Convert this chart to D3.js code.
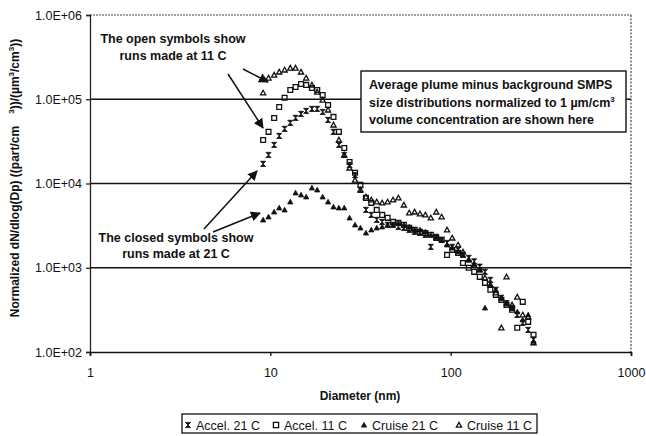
<!DOCTYPE html>
<html><head><meta charset="utf-8">
<script src="https://cdn.jsdelivr.net/npm/d3@7"></script>
<style>
body{margin:0;background:#fff;}
svg text{font-family:"Liberation Sans",Arial,sans-serif;fill:#111;}
</style></head>
<body><svg id="c" width="646" height="436"></svg>
<script>
// Diameter channels (nm)
const diameters = [9.12, 9.77, 10.5, 11.2, 12.0, 12.9, 13.8, 14.8, 15.8, 17.0, 18.2, 19.5, 20.9, 22.4, 24.0, 25.7, 27.5, 29.5, 31.6, 33.9, 36.3, 38.9, 41.7, 44.7, 47.9, 51.3, 55.0, 58.9, 63.1, 67.6, 72.4, 77.6, 83.2, 89.1, 95.5, 102, 110, 117, 126, 135, 145, 155, 166, 178, 191, 204, 219, 234, 251, 269, 288];
const accel21 = [17100, 21800, 28700, 36700, 44500, 52400, 60000, 66900, 72700, 76800, 76800, 70600, 56800, 41000, 28700, 21800, 16600, 12600, 8400, 4860, 4240, 3700, 3500, 3230, 3230, 3060, 2970, 2820, 2670, 2590, 2460, 1770, 2330, 2140, 1970, 1770, 1630, 1420, 1310, 1190, 1030, 894, 718, 547, 440, 380, 334, 276, 222, 183, 140];
const accel11 = [32900, 41000, 60000, 81000, 104000, 129000, 140000, 152000, 148000, 136000, 129000, 112000, 85500, 61700, 41000, 26400, 18000, 13400, 9620, 6750, 5890, 4860, 4240, 3910, 3500, 3410, 3230, 2970, 2820, 2670, 2590, 2460, 2260, 2140, 1420, 1630, 1500, 1140, 1000, 894, 780, 662, 547, 477, 416, 363, 317, 194, 394, 228, 160];
const cruise21 = [3700, 4020, 4600, 5140, 4860, 6050, 7740, 7330, 6940, 8870, 8400, 6940, 6050, 5280, 5140, 5140, 3910, 3230, 2970, 2590, 2820, 2970, 3060, 3230, 3230, 3410, 3230, 3060, 2820, 2820, 2670, 2460, 2330, 2140, 1870, 1720, 1540, 1420, 1240, 1110, 944, 334, 627, 547, 440, 380, 334, 300, 241, 276, 134];
const cruise11 = [119000, 179000, 194000, 211000, 223000, 235000, 235000, 211000, 179000, 148000, 122000, 98100, 74700, 49600, 32900, 21800, 15300, 11000, 8400, 6940, 6390, 6050, 5890, 6050, 6390, 6750, 5570, 4480, 4600, 4360, 4240, 3910, 4600, 4020, 2820, 2260, 1870, 1540, 1240, 1080, 944, 760, 627, 504, 194, 780, 363, 450, 276, 262, 129];
const seriesNames = ["Accel. 21 C", "Accel. 11 C", "Cruise 21 C", "Cruise 11 C"];
const seriesValues = [accel21, accel11, cruise21, cruise11];
const seriesSymbols = ["hourglass", "square", "triFilled", "triOpen"];
const yTicks = [1e2, 1e3, 1e4, 1e5, 1e6];
const yTickLabels = ["1.0E+02", "1.0E+03", "1.0E+04", "1.0E+05", "1.0E+06"];
const xTicks = [1, 10, 100, 1000];
const xTickLabels = ["1", "10", "100", "1000"];

const svg = d3.select("#c");
const L = 90, R = 631, T = 15, B = 352;
const x = d3.scaleLog().domain([1, 1000]).range([L, R]);
const y = d3.scaleLog().domain([100, 1e6]).range([B, T]);

// gridlines
svg.append("g").selectAll("line").data([1e3, 1e4, 1e5]).join("line")
  .attr("x1", L).attr("x2", R).attr("y1", d => y(d)).attr("y2", d => y(d))
  .attr("stroke", "#111").attr("stroke-width", 1.3);
// top and right dotted border
svg.append("line").attr("x1", L).attr("x2", R).attr("y1", y(1e6)).attr("y2", y(1e6))
  .attr("stroke", "#444").attr("stroke-width", 1.2).attr("stroke-dasharray", "2,1");
svg.append("line").attr("x1", R).attr("x2", R).attr("y1", T).attr("y2", B)
  .attr("stroke", "#444").attr("stroke-width", 1.2).attr("stroke-dasharray", "2,1.5");

// axes
const yAxis = d3.axisLeft(y).tickValues(yTicks).tickFormat((d, i) => yTickLabels[yTicks.indexOf(d)]).tickSize(4).tickPadding(4);
const gy = svg.append("g").attr("transform", `translate(${L},0)`).call(yAxis);
gy.select(".domain").attr("stroke", "#222").attr("stroke-width", 1.3);
gy.selectAll(".tick line").attr("stroke", "#222").attr("stroke-width", 1.3);
gy.selectAll(".tick text").attr("font-size", 12.5).attr("fill", "#111").style("font-family", '"Liberation Sans",Arial,sans-serif');

const xAxis = d3.axisBottom(x).tickValues(xTicks).tickFormat(d => xTickLabels[xTicks.indexOf(d)]).tickSize(4).tickPadding(12);
const gx = svg.append("g").attr("transform", `translate(0,${B})`).call(xAxis);
gx.select(".domain").attr("stroke", "#111").attr("stroke-width", 1.6);
gx.selectAll(".tick line").attr("stroke", "#111").attr("stroke-width", 1.3);
gx.selectAll(".tick text").attr("font-size", 12.5).attr("fill", "#111").style("font-family", '"Liberation Sans",Arial,sans-serif');

// symbols
function symbolPath(kind, s) {
  if (kind === "hourglass") return `M${-s},${-s}L${s},${-s}L${-s},${s}L${s},${s}Z`;
  if (kind === "square") return `M${-s},${-s}H${s}V${s}H${-s}Z`;
  return `M0,${-s}L${s},${s * 0.8}L${-s},${s * 0.8}Z`;
}
function styleSym(sel, kind) {
  if (kind === "hourglass" || kind === "triFilled") sel.attr("fill", "#111").attr("stroke", "#111").attr("stroke-width", 0.8);
  else sel.attr("fill", "none").attr("stroke", "#111").attr("stroke-width", 1.3);
}

const plot = svg.append("g");
seriesValues.forEach((vals, si) => {
  const kind = seriesSymbols[si];
  const pts = diameters.map((d, i) => ({d, v: vals[i]})).filter(p => p.v != null);
  const g = plot.append("g");
  const sz = kind === "square" ? 2.4 : 2.6;
  g.selectAll("path").data(pts).join("path")
    .attr("transform", p => `translate(${x(p.d)},${y(p.v)})`)
    .attr("d", symbolPath(kind, sz))
    .call(styleSym, kind);
});

// annotation box
svg.append("rect").attr("x", 361).attr("y", 71).attr("width", 265).attr("height", 61)
  .attr("fill", "#fff").attr("stroke", "#111").attr("stroke-width", 1.4);
const boxText = svg.append("text").attr("font-size", 12.5).attr("font-weight", "bold");
boxText.append("tspan").attr("x", 369).attr("y", 89).text("Average plume minus background SMPS");
const l2 = boxText.append("tspan").attr("x", 369).attr("y", 107).text("size distributions normalized to 1 \u00b5m/cm");
boxText.append("tspan").attr("dy", -5).attr("font-size", 8).text("3");
boxText.append("tspan").attr("x", 369).attr("y", 124).text("volume concentration are shown here");

// text annotations
const ann = [["The open symbols show", 173, 43], ["runs made at 11 C", 173, 60], ["The closed symbols show", 176, 242], ["runs made at 21 C", 176, 258]];
svg.append("g").selectAll("text").data(ann).join("text")
  .attr("x", d => d[1]).attr("y", d => d[2]).attr("text-anchor", "middle")
  .attr("font-size", 12.5).attr("font-weight", "bold").text(d => d[0]);

// arrows
svg.append("defs").append("marker").attr("id", "ah").attr("viewBox", "0 0 10 10")
  .attr("refX", 9).attr("refY", 5).attr("markerWidth", 10).attr("markerHeight", 10)
  .attr("markerUnits", "userSpaceOnUse").attr("orient", "auto")
  .append("path").attr("d", "M0,0L10,5L0,10Z").attr("fill", "#111");
const arrows = [[243, 69, 268, 82], [228, 74, 263, 128], [204, 229, 257, 171], [213, 232, 260, 213]];
svg.append("g").selectAll("line").data(arrows).join("line")
  .attr("x1", d => d[0]).attr("y1", d => d[1]).attr("x2", d => d[2]).attr("y2", d => d[3])
  .attr("stroke", "#111").attr("stroke-width", 1.5).attr("marker-end", "url(#ah)");

// axis titles
svg.append("text").attr("x", 360).attr("y", 400).attr("text-anchor", "middle")
  .attr("font-size", 12).attr("font-weight", "bold").text("Diameter (nm)");
const yt = svg.append("text").attr("transform", "translate(19,178) rotate(-90)").attr("text-anchor", "middle")
  .attr("font-size", 12).attr("font-weight", "bold");
yt.append("tspan").text("Normalized dN/dlog(Dp) ((part/cm");
yt.append("tspan").attr("dx", 12).attr("dy", -5).attr("font-size", 8).text("3");
yt.append("tspan").attr("dy", 5).text("))/(\u00b5m");
yt.append("tspan").attr("dy", -5).attr("font-size", 8).text("3");
yt.append("tspan").attr("dy", 5).text("/cm");
yt.append("tspan").attr("dy", -5).attr("font-size", 8).text("3");
yt.append("tspan").attr("dy", 5).text("))");

// legend
const lg = svg.append("g");
lg.append("rect").attr("x", 182).attr("y", 414).attr("width", 355).attr("height", 19)
  .attr("fill", "#fff").attr("stroke", "#111").attr("stroke-width", 1.3);
const legX = [188, 276, 364, 459];
seriesNames.forEach((n, i) => {
  const kind = seriesSymbols[i];
  lg.append("path").attr("transform", `translate(${legX[i]},${425})`).attr("d", symbolPath(kind, 2.6)).call(styleSym, kind);
  lg.append("text").attr("x", legX[i] + 8).attr("y", 430).attr("font-size", 12.5).text(n);
});
</script></body></html>
